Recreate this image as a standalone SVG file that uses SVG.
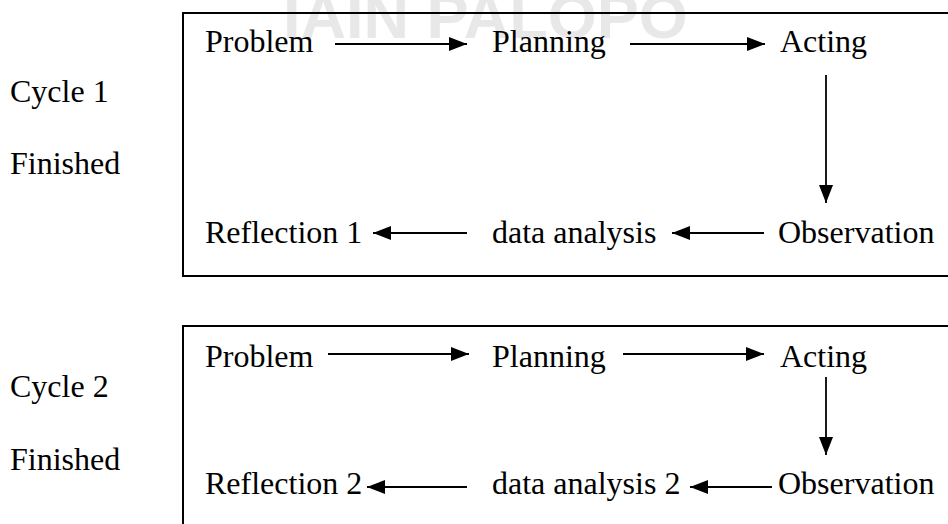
<svg xmlns="http://www.w3.org/2000/svg" width="948" height="524" viewBox="0 0 948 524">
<defs>
<style>
.t{font-family:"Liberation Serif","Times New Roman",serif;font-size:32px;fill:#000}
.wm{font-family:"Liberation Sans",Arial,sans-serif;font-size:63px;font-weight:bold;fill:#e8e8e8}
.box{fill:none;stroke:#000;stroke-width:2}
.c{stroke:#000;stroke-width:1.8;fill:none;marker-end:url(#ah)}
</style>
<marker id="ah" markerUnits="userSpaceOnUse" markerWidth="20" markerHeight="16" refX="18" refY="7" orient="auto">
<path d="M0,0 L18,7 L0,14 z" fill="#000"/>
</marker>
</defs>
<rect width="948" height="524" fill="#fff"/>
<text class="wm" x="283" y="38">IAIN PALOPO</text>

<g id="labels">
<text class="t" x="10" y="102">Cycle 1</text>
<text class="t" x="10" y="174">Finished</text>
<text class="t" x="10" y="397">Cycle 2</text>
<text class="t" x="10" y="470">Finished</text>
</g>

<g id="cycle1">
<rect class="box" x="183" y="13" width="800" height="263"/>
<g id="c1-problem"><text class="t" x="205" y="52">Problem</text></g>
<g id="c1-planning"><text class="t" x="492" y="52">Planning</text></g>
<g id="c1-acting"><text class="t" x="780" y="52">Acting</text></g>
<g id="c1-observation"><text class="t" x="778" y="243">Observation</text></g>
<g id="c1-analysis"><text class="t" x="492" y="243">data analysis</text></g>
<g id="c1-reflection"><text class="t" x="205" y="243">Reflection 1</text></g>
</g>

<g id="cycle2">
<rect class="box" x="183" y="326" width="800" height="300"/>
<g id="c2-problem"><text class="t" x="205" y="367">Problem</text></g>
<g id="c2-planning"><text class="t" x="492" y="367">Planning</text></g>
<g id="c2-acting"><text class="t" x="780" y="367">Acting</text></g>
<g id="c2-observation"><text class="t" x="778" y="494">Observation</text></g>
<g id="c2-analysis"><text class="t" x="492" y="494">data analysis 2</text></g>
<g id="c2-reflection"><text class="t" x="205" y="494">Reflection 2</text></g>
</g>

<g id="connectors">
<line class="c" x1="335" y1="44" x2="467" y2="44"/>
<line class="c" x1="630" y1="44" x2="765" y2="44"/>
<line class="c" x1="826" y1="75" x2="826" y2="203"/>
<line class="c" x1="764" y1="233" x2="672" y2="233"/>
<line class="c" x1="467" y1="233" x2="373" y2="233"/>
<line class="c" x1="328" y1="354" x2="469" y2="354"/>
<line class="c" x1="623" y1="354" x2="764" y2="354"/>
<line class="c" x1="826" y1="377" x2="826" y2="455"/>
<line class="c" x1="772" y1="487" x2="690" y2="487"/>
<line class="c" x1="467" y1="487" x2="367" y2="487"/>
</g>
</svg>
